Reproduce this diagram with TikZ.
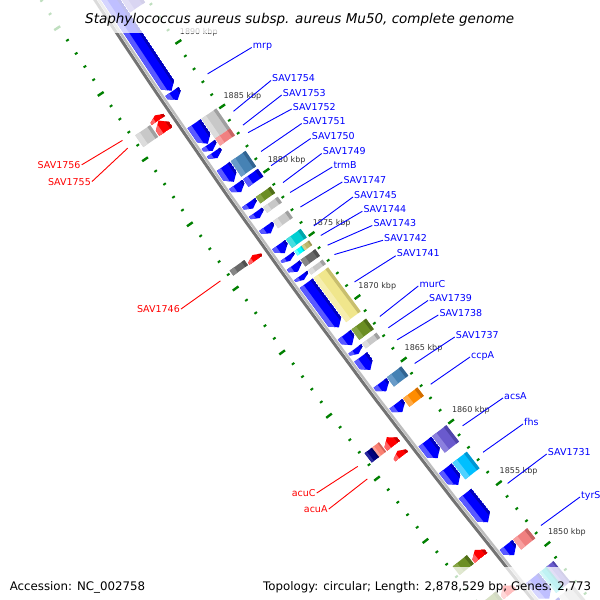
\documentclass[tikz,border=0pt]{standalone}
\usepackage{fontspec}
\setmainfont{DejaVu Sans}
% colours: B base, L light (outer edge), D dark (inner edge)
\definecolor{blueB}{RGB}{0,0,255}\definecolor{blueL}{RGB}{90,90,255}\definecolor{blueD}{RGB}{0,0,190}
\definecolor{redB}{RGB}{255,0,0}\definecolor{redL}{RGB}{255,100,100}\definecolor{redD}{RGB}{200,0,0}
\definecolor{lgrayB}{RGB}{200,200,200}\definecolor{lgrayL}{RGB}{220,220,220}\definecolor{lgrayD}{RGB}{160,160,160}
\definecolor{dgrayB}{RGB}{105,105,105}\definecolor{dgrayL}{RGB}{135,135,135}\definecolor{dgrayD}{RGB}{80,80,80}
\definecolor{coralB}{RGB}{240,128,128}\definecolor{coralL}{RGB}{248,160,160}\definecolor{coralD}{RGB}{200,100,100}
\definecolor{steelB}{RGB}{70,130,180}\definecolor{steelL}{RGB}{105,155,200}\definecolor{steelD}{RGB}{50,100,145}
\definecolor{oliveB}{RGB}{107,142,35}\definecolor{oliveL}{RGB}{135,165,70}\definecolor{oliveD}{RGB}{80,110,25}
\definecolor{turqB}{RGB}{0,206,209}\definecolor{turqL}{RGB}{70,222,224}\definecolor{turqD}{RGB}{0,165,170}
\definecolor{cyanB}{RGB}{0,255,255}\definecolor{cyanL}{RGB}{110,255,255}\definecolor{cyanD}{RGB}{0,210,210}
\definecolor{dkhakiB}{RGB}{189,183,107}\definecolor{dkhakiL}{RGB}{210,205,140}\definecolor{dkhakiD}{RGB}{155,150,85}
\definecolor{khakiB}{RGB}{240,230,140}\definecolor{khakiL}{RGB}{246,238,175}\definecolor{khakiD}{RGB}{200,190,110}
\definecolor{orangeB}{RGB}{255,140,0}\definecolor{orangeL}{RGB}{255,170,70}\definecolor{orangeD}{RGB}{210,110,0}
\definecolor{slateB}{RGB}{106,90,205}\definecolor{slateL}{RGB}{140,128,222}\definecolor{slateD}{RGB}{80,68,170}
\definecolor{skyB}{RGB}{0,191,255}\definecolor{skyL}{RGB}{80,210,255}\definecolor{skyD}{RGB}{0,150,210}
\definecolor{salmonB}{RGB}{250,128,114}\definecolor{salmonL}{RGB}{252,160,150}\definecolor{salmonD}{RGB}{210,100,90}
\definecolor{navyB}{RGB}{0,0,128}\definecolor{navyL}{RGB}{40,40,160}\definecolor{navyD}{RGB}{0,0,95}
\definecolor{bbdark}{RGB}{115,115,115}\definecolor{bblight}{RGB}{190,190,190}
\definecolor{tickgreen}{RGB}{0,128,0}

% map coordinates: p = position in kbp, d = offset from backbone (positive towards upper right)
\pgfkeys{/gm/p/.store in=\gmp, /gm/d/.store in=\gmd}
\tikzdeclarecoordinatesystem{gm}{%
  \pgfkeys{/gm/.cd,#1}%
  \pgfmathsetmacro\gmang{141.18+0.12506*((\gmp)-1850)}%
  \pgfmathsetmacro\gmrad{7184-(\gmd)}%
  \pgfpointadd{\pgfpointxy{6108.9}{-3930.8}}{\pgfpointpolarxy{\gmang}{\gmrad}}%
}

\tikzset{
  blbl/.style={font=\fontsize{9.5}{11}\selectfont, text=blueB, inner sep=0pt},
  rlbl/.style={font=\fontsize{9.5}{11}\selectfont, text=redB, inner sep=0pt},
  bleader/.style={draw=blueB, line width=0.9pt},
  rleader/.style={draw=redB, line width=0.9pt},
  ticklbl/.style={font=\fontsize{8}{9}\selectfont, text=black!80, inner sep=0pt},
  tickmaj/.style={draw=tickgreen, line width=2.4pt},
  tickmin/.style={draw=tickgreen, line width=2pt},
}

% #1 kind (0 box, 1 arrow to low p, -1 arrow to high p), #2 p low, #3 p high, #4 d low, #5 d high, #6 colour
\newcommand\gfeat[6]{%
  \begin{scope}
    \pgfmathsetmacro\fmid{((#4)+(#5))/2}%
    \pgfmathsetmacro\flo{(#4)+0.3*((#5)-(#4))}%
    \pgfmathsetmacro\fhi{(#5)-0.18*((#5)-(#4))}%
    \pgfmathsetmacro\fhead{min(0.45,0.6*((#3)-(#2)))}%
    \ifnum#1=1
      \pgfmathsetmacro\fneck{#2+\fhead}%
      \clip (gm cs:p=#3,d=#4) -- (gm cs:p=\fneck,d=#4) -- (gm cs:p=#2,d=\fmid) -- (gm cs:p=\fneck,d=#5) -- (gm cs:p=#3,d=#5) -- cycle;
    \fi
    \ifnum#1=-1
      \pgfmathsetmacro\fneck{#3-\fhead}%
      \clip (gm cs:p=#2,d=#4) -- (gm cs:p=\fneck,d=#4) -- (gm cs:p=#3,d=\fmid) -- (gm cs:p=\fneck,d=#5) -- (gm cs:p=#2,d=#5) -- cycle;
    \fi
    \fill[#6B] (gm cs:p=#2,d=#4) -- (gm cs:p=#3,d=#4) -- (gm cs:p=#3,d=#5) -- (gm cs:p=#2,d=#5) -- cycle;
    \fill[#6L] (gm cs:p=#2,d=#4) -- (gm cs:p=#3,d=#4) -- (gm cs:p=#3,d=\flo) -- (gm cs:p=#2,d=\flo) -- cycle;
    \fill[#6D] (gm cs:p=#2,d=\fhi) -- (gm cs:p=#3,d=\fhi) -- (gm cs:p=#3,d=#5) -- (gm cs:p=#2,d=#5) -- cycle;
  \end{scope}%
}

\newcommand\blab[5]{%
  \coordinate (#1s) at (gm cs:p=#2,d=52);
  \node[blbl, anchor=base west] (#1) at (#3,#4) {#5};
  \draw[bleader] (#1s) -- ([xshift=-1pt,yshift=1pt]#1.base west);
}
\newcommand\rlab[5]{%
  \coordinate (#1s) at (gm cs:p=#2,d=-56);
  \node[rlbl, anchor=base east] (#1) at (#3,#4) {#5};
  \draw[rleader] (#1s) -- ([xshift=1pt]#1.east);
}

% lanes
\def\FCa{4.5}\def\FCb{20.5}
\def\FGa{21.5}\def\FGb{39.5}\def\FGm{30.5}
\def\RCa{-23}\def\RCb{-7}
\def\RGa{-42.5}\def\RGb{-24.5}\def\RGm{-33.5}

\begin{document}
\begin{tikzpicture}[x=1pt,y=-1pt]
\useasboundingbox (0,0) rectangle (600,600);
\clip (0,0) rectangle (600,600);
\fill[white] (0,0) rectangle (600,600);

% backbone
\draw[bbdark, line width=3pt] (gm cs:p=1902,d=-1) \foreach \q in {1901,1900,...,1838}{ -- (gm cs:p=\q,d=-1)};
\draw[bblight, line width=2.4pt] (gm cs:p=1902,d=2.2) \foreach \q in {1901,1900,...,1838}{ -- (gm cs:p=\q,d=2.2)};

% tick rings
\foreach \q in {1838,1839,...,1900}{%
  \pgfmathtruncatemacro\qm{mod(\q,5)}%
  \ifnum\qm=0
    \draw[tickmaj] (gm cs:p=\q,d=42) -- (gm cs:p=\q,d=49);
    \draw[tickmaj] (gm cs:p=\q,d=-44.5) -- (gm cs:p=\q,d=-51.5);
  \else
    \draw[tickmin] (gm cs:p=\q,d=42) -- (gm cs:p=\q,d=45);
    \draw[tickmin] (gm cs:p=\q,d=-44.5) -- (gm cs:p=\q,d=-47.5);
  \fi
}
\foreach \q in {1850,1855,...,1890}{\node[ticklbl] (tk\q) at (gm cs:p=\q-0.2,d=68) {\q\ kbp};}

% forward CDS
\gfeat{1}{1887.65}{1896.5}{\FCa}{\FCb}{blue}
\gfeat{1}{1886.95}{1887.6}{\FCa}{\FCb}{blue}
\gfeat{1}{1883.55}{1885.1}{\FCa}{\FCb}{blue}
\gfeat{1}{1883.0}{1883.5}{\FCa}{\FCb}{blue}
\gfeat{1}{1882.45}{1882.9}{\FCa}{\FCb}{blue}
\gfeat{1}{1880.6}{1881.8}{\FCa}{\FCb}{blue}
\gfeat{1}{1879.8}{1880.4}{\FCa}{\FCb}{blue}
\gfeat{1}{1878.5}{1878.98}{\FCa}{\FCb}{blue}
\gfeat{1}{1877.75}{1878.22}{\FCa}{\FCb}{blue}
\gfeat{1}{1876.55}{1877.11}{\FCa}{\FCb}{blue}
\gfeat{1}{1875.0}{1875.67}{\FCa}{\FCb}{blue}
\gfeat{1}{1874.4}{1874.75}{\FCa}{\FCb}{blue}
\gfeat{1}{1873.55}{1874.07}{\FCa}{\FCb}{blue}
\gfeat{1}{1872.9}{1873.25}{\FCa}{\FCb}{blue}
\gfeat{1}{1869.13}{1872.64}{\FCa}{\FCb}{blue}
\gfeat{1}{1867.72}{1868.55}{\FCa}{\FCb}{blue}
\gfeat{1}{1867.03}{1867.43}{\FCa}{\FCb}{blue}
\gfeat{1}{1865.75}{1866.79}{\FCa}{\FCb}{blue}
\gfeat{1}{1864.05}{1864.72}{\FCa}{\FCb}{blue}
\gfeat{1}{1862.37}{1863.04}{\FCa}{\FCb}{blue}
\gfeat{1}{1858.66}{1860.0}{\FCa}{\FCb}{blue}
\gfeat{1}{1856.51}{1857.85}{\FCa}{\FCb}{blue}
\gfeat{1}{1853.46}{1855.8}{\FCa}{\FCb}{blue}
\gfeat{1}{1850.77}{1851.6}{\FCa}{\FCb}{blue}
\gfeat{1}{1847.2}{1848.9}{\FCa}{\FCb}{blue}
\gfeat{1}{1845.3}{1846.9}{\FCa}{\FCb}{blue}

% forward COG boxes
\gfeat{0}{1893.3}{1895.5}{\FGa}{\FGb}{slate}
\gfeat{0}{1883.55}{1885.1}{\FGa}{\FGb}{lgray}
\gfeat{0}{1883.0}{1883.55}{\FGa}{\FGb}{coral}
\gfeat{0}{1880.6}{1881.8}{\FGa}{\FGb}{steel}
\gfeat{0}{1879.8}{1880.4}{\FGa}{\FGb}{blue}
\gfeat{0}{1878.5}{1879.0}{\FGa}{\FGb}{olive}
\gfeat{0}{1877.75}{1878.2}{\FGa}{\FGb}{lgray}
\gfeat{0}{1876.55}{1877.11}{\FGa}{\FGb}{lgray}
\gfeat{0}{1875.0}{1875.67}{\FGa}{\FGb}{turq}
\gfeat{0}{1874.4}{1874.75}{\FGa}{\FGm}{cyan}
\gfeat{0}{1874.4}{1874.75}{\FGm}{\FGb}{dkhaki}
\gfeat{0}{1873.55}{1874.07}{\FGa}{\FGb}{dgray}
\gfeat{0}{1872.9}{1873.25}{\FGa}{\FGb}{lgray}
\gfeat{0}{1869.13}{1872.64}{\FGa}{\FGb}{khaki}
\gfeat{0}{1867.72}{1868.55}{\FGa}{\FGb}{olive}
\gfeat{0}{1867.03}{1867.43}{\FGa}{\FGb}{lgray}
\gfeat{0}{1864.0}{1864.75}{\FGa}{\FGb}{steel}
\gfeat{0}{1862.37}{1863.04}{\FGa}{\FGb}{orange}
\gfeat{0}{1858.66}{1860.0}{\FGa}{\FGb}{slate}
\gfeat{0}{1856.51}{1857.85}{\FGa}{\FGb}{sky}
\gfeat{0}{1850.77}{1851.6}{\FGa}{\FGb}{coral}
\gfeat{0}{1847.2}{1848.9}{\FGm}{\FGb}{slate}
\gfeat{0}{1847.2}{1848.9}{\FGa}{\FGm}{turq}
\gfeat{0}{1845.3}{1846.9}{\FGa}{\FGb}{lgray}

% reverse CDS
\gfeat{-1}{1885.7}{1886.55}{\RCa}{\RCb}{red}
\gfeat{-1}{1886.55}{1886.95}{\RCa}{\RCb}{red}
\gfeat{-1}{1875.7}{1876.1}{\RCa}{\RCb}{red}
\gfeat{-1}{1861.0}{1861.7}{\RCa}{\RCb}{red}
\gfeat{-1}{1860.15}{1860.6}{\RCa}{\RCb}{red}
\gfeat{-1}{1851.95}{1852.6}{\RCa}{\RCb}{red}
\gfeat{-1}{1849.0}{1849.7}{\RCa}{\RCb}{red}

% reverse COG boxes
\gfeat{0}{1885.7}{1886.6}{\RGa}{\RGb}{lgray}
\gfeat{0}{1875.75}{1876.15}{\RGa}{\RGb}{dgray}
\gfeat{0}{1861.0}{1861.75}{\RGm}{\RGb}{salmon}
\gfeat{0}{1861.0}{1861.75}{\RGa}{\RGm}{navy}
\gfeat{0}{1851.95}{1852.65}{\RGa}{\RGb}{olive}
\gfeat{0}{1849.0}{1849.7}{\RGa}{\RGb}{olive}

% forward labels
\blab{mrp}{1887.25}{252.7}{48.5}{mrp}
\blab{g1754}{1884.33}{272}{81.5}{SAV1754}
\blab{g1753}{1883.25}{282.7}{96}{SAV1753}
\blab{g1752}{1882.67}{292.7}{110}{SAV1752}
\blab{g1751}{1881.2}{302.7}{124.5}{SAV1751}
\blab{g1750}{1880.08}{311.7}{139.5}{SAV1750}
\blab{g1749}{1878.75}{322.7}{154.5}{SAV1749}
\blab{trmB}{1877.97}{333.3}{168}{trmB}
\blab{g1747}{1876.83}{343.3}{183}{SAV1747}
\blab{g1745}{1875.34}{354}{198}{SAV1745}
\blab{g1744}{1874.58}{363.3}{212.3}{SAV1744}
\blab{g1743}{1873.81}{373.3}{226.5}{SAV1743}
\blab{g1742}{1873.07}{384}{241.3}{SAV1742}
\blab{g1741}{1870.89}{396.7}{256.8}{SAV1741}
\blab{murC}{1868.14}{419.3}{287}{murC}
\blab{g1739}{1867.23}{429}{301.5}{SAV1739}
\blab{g1738}{1866.27}{439.3}{316}{SAV1738}
\blab{g1737}{1864.38}{455.7}{338}{SAV1737}
\blab{ccpA}{1862.70}{471}{358}{ccpA}
\blab{acsA}{1859.33}{504}{399}{acsA}
\blab{fhs}{1857.18}{524}{425}{fhs}
\blab{g1731}{1854.63}{547.7}{455}{SAV1731}
\blab{tyrS}{1851.18}{581}{498}{tyrS}

% reverse labels
\rlab{g1756}{1886.8}{80.7}{168.3}{SAV1756}
\rlab{g1755}{1886.2}{91}{185}{SAV1755}
\rlab{g1746}{1875.95}{180}{312.5}{SAV1746}
\rlab{acuC}{1861.35}{315.7}{496.5}{acuC}
\rlab{acuA}{1860.35}{327.7}{512.5}{acuA}

% translucent bands, title and footer
\fill[white, opacity=0.75] (0,0) rectangle (600,32.5);
\fill[white, opacity=0.75] (0,567) rectangle (600,600);
\node[anchor=base west, inner sep=0pt, font=\fontsize{13.5}{16}\selectfont\itshape] (title) at (85,23) {Staphylococcus aureus subsp. aureus Mu50, complete genome};
\node[anchor=base west, inner sep=0pt, font=\fontsize{11.8}{14}\selectfont] (acc) at (9.6,590) {Accession: NC\_002758};
\node[anchor=base west, inner sep=0pt, font=\fontsize{11.8}{14}\selectfont] (topo) at (263,590) {Topology: circular; Length: 2,878,529 bp; Genes: 2,773};
\end{tikzpicture}
\end{document}
